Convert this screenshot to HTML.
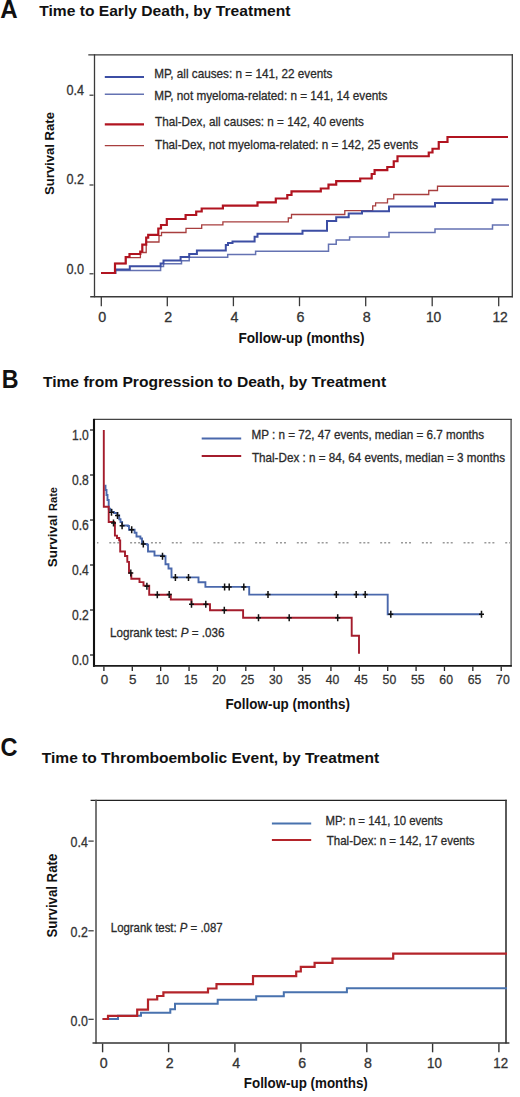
<!DOCTYPE html>
<html><head><meta charset="utf-8"><style>
html,body{margin:0;padding:0;background:#fff;}
svg{display:block;}
text{font-family:"Liberation Sans", sans-serif;}
</style></head><body>
<svg width="520" height="1097" viewBox="0 0 520 1097">
<rect width="520" height="1097" fill="#fff"/>
<text x="0.2" y="17.9" font-size="25.5" font-weight="bold" textLength="17.4" lengthAdjust="spacingAndGlyphs" fill="#111" >A</text>
<text x="39.2" y="16.2" font-size="15.0" font-weight="bold" textLength="251.3" lengthAdjust="spacingAndGlyphs" fill="#111" >Time to Early Death, by Treatment</text>
<text x="54.4" y="195.0" font-size="13.4" font-weight="bold" textLength="83.0" lengthAdjust="spacingAndGlyphs" transform="rotate(-90 54.4 195.0)" fill="#111" >Survival Rate</text>
<text x="84" y="95.4" font-size="13.8" text-anchor="end" textLength="17.6" lengthAdjust="spacingAndGlyphs" fill="#333"  stroke="#333" stroke-width="0.3">0.4</text>
<line x1="89.5" y1="95.2" x2="93.5" y2="95.2" stroke="#333" stroke-width="1.2" />
<text x="84" y="184.3" font-size="13.8" text-anchor="end" textLength="17.6" lengthAdjust="spacingAndGlyphs" fill="#333"  stroke="#333" stroke-width="0.3">0.2</text>
<line x1="89.5" y1="185" x2="93.5" y2="185" stroke="#333" stroke-width="1.2" />
<text x="84" y="274.3" font-size="13.8" text-anchor="end" textLength="17.6" lengthAdjust="spacingAndGlyphs" fill="#333"  stroke="#333" stroke-width="0.3">0.0</text>
<line x1="89.5" y1="273.8" x2="93.5" y2="273.8" stroke="#333" stroke-width="1.2" />
<line x1="88.3" y1="54.8" x2="513" y2="54.8" stroke="#3a3a3a" stroke-width="1.3" />
<line x1="94.5" y1="54.2" x2="94.5" y2="297.3" stroke="#3a3a3a" stroke-width="1.3" />
<line x1="90.2" y1="296.7" x2="513" y2="296.7" stroke="#3a3a3a" stroke-width="1.4" />
<line x1="512.3" y1="54.2" x2="512.3" y2="297.3" stroke="#3a3a3a" stroke-width="1.3" />
<line x1="101.3" y1="297" x2="101.3" y2="306.2" stroke="#3a3a3a" stroke-width="1.3" />
<text x="102.3" y="321.6" font-size="14.3" text-anchor="middle" fill="#333"  stroke="#333" stroke-width="0.3">0</text>
<line x1="167.3" y1="297" x2="167.3" y2="306.2" stroke="#3a3a3a" stroke-width="1.3" />
<text x="168.3" y="321.6" font-size="14.3" text-anchor="middle" fill="#333"  stroke="#333" stroke-width="0.3">2</text>
<line x1="233.4" y1="297" x2="233.4" y2="306.2" stroke="#3a3a3a" stroke-width="1.3" />
<text x="234.4" y="321.6" font-size="14.3" text-anchor="middle" fill="#333"  stroke="#333" stroke-width="0.3">4</text>
<line x1="299.5" y1="297" x2="299.5" y2="306.2" stroke="#3a3a3a" stroke-width="1.3" />
<text x="300.5" y="321.6" font-size="14.3" text-anchor="middle" fill="#333"  stroke="#333" stroke-width="0.3">6</text>
<line x1="365.7" y1="297" x2="365.7" y2="306.2" stroke="#3a3a3a" stroke-width="1.3" />
<text x="366.7" y="321.6" font-size="14.3" text-anchor="middle" fill="#333"  stroke="#333" stroke-width="0.3">8</text>
<line x1="432.2" y1="297" x2="432.2" y2="306.2" stroke="#3a3a3a" stroke-width="1.3" />
<text x="433.59999999999997" y="321.6" font-size="14.3" text-anchor="middle" textLength="15.4" lengthAdjust="spacingAndGlyphs" fill="#333"  stroke="#333" stroke-width="0.3">10</text>
<line x1="498.7" y1="297" x2="498.7" y2="306.2" stroke="#3a3a3a" stroke-width="1.3" />
<text x="500.09999999999997" y="321.6" font-size="14.3" text-anchor="middle" textLength="15.4" lengthAdjust="spacingAndGlyphs" fill="#333"  stroke="#333" stroke-width="0.3">12</text>
<text x="238.5" y="342.5" font-size="14.2" font-weight="bold" textLength="126.1" lengthAdjust="spacingAndGlyphs" fill="#111" >Follow-up (months)</text>
<line x1="104.8" y1="77" x2="144" y2="77" stroke="#3c4ea4" stroke-width="2.0" />
<line x1="104.8" y1="94.3" x2="144" y2="94.3" stroke="#6472b2" stroke-width="1.5" />
<line x1="104.8" y1="124.4" x2="144" y2="124.4" stroke="#b11420" stroke-width="2.3" />
<line x1="104.8" y1="145.7" x2="144" y2="145.7" stroke="#a83e3e" stroke-width="1.3" />
<text x="154.2" y="77.8" font-size="13.5" textLength="178.2" lengthAdjust="spacingAndGlyphs" fill="#2a2a2a"  stroke="#2a2a2a" stroke-width="0.3">MP, all causes: n = 141, 22 events</text>
<text x="154.2" y="100.1" font-size="13.5" textLength="233.2" lengthAdjust="spacingAndGlyphs" fill="#2a2a2a"  stroke="#2a2a2a" stroke-width="0.3">MP, not myeloma-related: n = 141, 14 events</text>
<text x="155.0" y="125.8" font-size="13.5" textLength="208.8" lengthAdjust="spacingAndGlyphs" fill="#2a2a2a"  stroke="#2a2a2a" stroke-width="0.3">Thal-Dex, all causes: n = 142, 40 events</text>
<text x="155.0" y="148.5" font-size="13.5" textLength="263.0" lengthAdjust="spacingAndGlyphs" fill="#2a2a2a"  stroke="#2a2a2a" stroke-width="0.3">Thal-Dex, not myeloma-related: n = 142, 25 events</text>
<path d="M101,273 H115.4 V270.6 H160.6 V266.5 H163.5 V263.7 H181.5 V260.8 H189.2 V257.3 H227.7 V254.4 H255.6 V251.2 H328.5 V244.2 H336.2 V240 H349.6 V237 H389 V232.5 H435 V229 H492.5 V225 H509" fill="none" stroke="#6472b2" stroke-width="1.5" stroke-linejoin="miter"/>
<path d="M101,273 H115 V263.5 H125.7 V257.7 H140.4 V252.5 H146.2 V242 H159 V235.6 H161.5 V232.5 H186 V228.3 H201.7 V224.8 H222.9 V221.9 H288.3 V218 H291.5 V214.5 H344.8 V210.6 H372.7 V205.8 H375.6 V202.9 H387.5 V198.9 H393.75 V194.5 H428.75 V190.5 H437.5 V186.25 H509" fill="none" stroke="#a83e3e" stroke-width="1.3" stroke-linejoin="miter"/>
<path d="M101,273 H115.4 V269.6 H129.8 V266.2 H160.6 V263.5 H163.5 V260.4 H180.6 V256.9 H189.2 V254 H196.9 V250.6 H225.8 V245 H228 V243 H232.5 V241.5 H254.6 V236.7 H257.5 V233.8 H302.5 V230.8 H327 V221 H336.2 V217.3 H348.7 V213.5 H362 V211.2 H389 V206.5 H435 V203 H492.5 V199.5 H508" fill="none" stroke="#3c4ea4" stroke-width="2.0" stroke-linejoin="miter"/>
<path d="M101,273 H115 V263.5 H125.7 V257 H129.5 V254 H140.3 V251.5 H142.3 V244.6 H146.2 V237.6 H148.2 V234.9 H158.3 V228.5 H161 V225 H166.8 V219 H185.6 V215 H196.2 V211.5 H201.7 V208.5 H222.9 V205.6 H257.5 V202.3 H275.8 V198.5 H287.3 V195 H291.5 V191.4 H320.8 V188.5 H328.5 V184.6 H336.2 V181.2 H360.2 V178.5 H371.7 V174 H374.6 V170.2 H387.3 V167 H393.75 V161.25 H397.5 V156.25 H428.75 V152.5 H432.5 V148.75 H438.75 V142 H447.5 V137 H508" fill="none" stroke="#b11420" stroke-width="2.2" stroke-linejoin="miter"/>
<text x="1.8" y="387.5" font-size="25.5" font-weight="bold" textLength="16.8" lengthAdjust="spacingAndGlyphs" fill="#111" >B</text>
<text x="42.9" y="387.3" font-size="15.0" font-weight="bold" textLength="343.2" lengthAdjust="spacingAndGlyphs" fill="#111" >Time from Progression to Death, by Treatment</text>
<text x="57.2" y="567.3" font-size="13.3" font-weight="bold" textLength="52.6" lengthAdjust="spacingAndGlyphs" transform="rotate(-90 57.2 567.3)" fill="#111" >Survival</text>
<text x="57.1" y="510.9" font-size="11.0" font-weight="bold" textLength="23.9" lengthAdjust="spacingAndGlyphs" transform="rotate(-90 57.1 510.9)" fill="#111" >Rate</text>
<text x="88.8" y="439.8" font-size="13.8" text-anchor="end" textLength="16.8" lengthAdjust="spacingAndGlyphs" fill="#333"  stroke="#333" stroke-width="0.3">1.0</text>
<line x1="90" y1="430" x2="93.5" y2="430" stroke="#222" stroke-width="1.3" />
<text x="88.8" y="484.8" font-size="13.8" text-anchor="end" textLength="16.8" lengthAdjust="spacingAndGlyphs" fill="#333"  stroke="#333" stroke-width="0.3">0.8</text>
<line x1="90" y1="475" x2="93.5" y2="475" stroke="#222" stroke-width="1.3" />
<text x="88.8" y="529.8" font-size="13.8" text-anchor="end" textLength="16.8" lengthAdjust="spacingAndGlyphs" fill="#333"  stroke="#333" stroke-width="0.3">0.6</text>
<line x1="90" y1="520" x2="93.5" y2="520" stroke="#222" stroke-width="1.3" />
<text x="88.8" y="574.8" font-size="13.8" text-anchor="end" textLength="16.8" lengthAdjust="spacingAndGlyphs" fill="#333"  stroke="#333" stroke-width="0.3">0.4</text>
<line x1="90" y1="565" x2="93.5" y2="565" stroke="#222" stroke-width="1.3" />
<text x="88.8" y="619.8" font-size="13.8" text-anchor="end" textLength="16.8" lengthAdjust="spacingAndGlyphs" fill="#333"  stroke="#333" stroke-width="0.3">0.2</text>
<line x1="90" y1="610" x2="93.5" y2="610" stroke="#222" stroke-width="1.3" />
<text x="88.8" y="664.8" font-size="13.8" text-anchor="end" textLength="16.8" lengthAdjust="spacingAndGlyphs" fill="#333"  stroke="#333" stroke-width="0.3">0.0</text>
<line x1="90" y1="655" x2="93.5" y2="655" stroke="#222" stroke-width="1.3" />
<line x1="97" y1="542.7" x2="510" y2="542.7" stroke="#999" stroke-width="1.6" stroke-dasharray="2 2 2 2 2 10.84" stroke-dashoffset="8.58"/>
<line x1="93.5" y1="419.45" x2="511.8" y2="419.45" stroke="#444" stroke-width="1.2" />
<line x1="511.1" y1="419" x2="511.1" y2="666.6" stroke="#444" stroke-width="1.3" />
<line x1="94.0" y1="418.9" x2="94.0" y2="666.8" stroke="#111" stroke-width="2.1" />
<line x1="93" y1="665.85" x2="511.8" y2="665.85" stroke="#1a1a1a" stroke-width="1.7" />
<line x1="103.9" y1="666.5" x2="103.9" y2="671" stroke="#222" stroke-width="1.3" />
<text x="104.4" y="684.4" font-size="13.4" text-anchor="middle" fill="#333"  stroke="#333" stroke-width="0.3">0</text>
<line x1="132.28" y1="666.5" x2="132.28" y2="671" stroke="#222" stroke-width="1.3" />
<text x="132.78" y="684.4" font-size="13.4" text-anchor="middle" fill="#333"  stroke="#333" stroke-width="0.3">5</text>
<line x1="160.66" y1="666.5" x2="160.66" y2="671" stroke="#222" stroke-width="1.3" />
<text x="162.35999999999999" y="684.4" font-size="13.4" text-anchor="middle" textLength="13.6" lengthAdjust="spacingAndGlyphs" fill="#333"  stroke="#333" stroke-width="0.3">10</text>
<line x1="189.04" y1="666.5" x2="189.04" y2="671" stroke="#222" stroke-width="1.3" />
<text x="190.73999999999998" y="684.4" font-size="13.4" text-anchor="middle" textLength="13.6" lengthAdjust="spacingAndGlyphs" fill="#333"  stroke="#333" stroke-width="0.3">15</text>
<line x1="217.42" y1="666.5" x2="217.42" y2="671" stroke="#222" stroke-width="1.3" />
<text x="219.11999999999998" y="684.4" font-size="13.4" text-anchor="middle" textLength="13.6" lengthAdjust="spacingAndGlyphs" fill="#333"  stroke="#333" stroke-width="0.3">20</text>
<line x1="245.8" y1="666.5" x2="245.8" y2="671" stroke="#222" stroke-width="1.3" />
<text x="247.5" y="684.4" font-size="13.4" text-anchor="middle" textLength="13.6" lengthAdjust="spacingAndGlyphs" fill="#333"  stroke="#333" stroke-width="0.3">25</text>
<line x1="274.18" y1="666.5" x2="274.18" y2="671" stroke="#222" stroke-width="1.3" />
<text x="275.88" y="684.4" font-size="13.4" text-anchor="middle" textLength="13.6" lengthAdjust="spacingAndGlyphs" fill="#333"  stroke="#333" stroke-width="0.3">30</text>
<line x1="302.56" y1="666.5" x2="302.56" y2="671" stroke="#222" stroke-width="1.3" />
<text x="304.26" y="684.4" font-size="13.4" text-anchor="middle" textLength="13.6" lengthAdjust="spacingAndGlyphs" fill="#333"  stroke="#333" stroke-width="0.3">35</text>
<line x1="330.94" y1="666.5" x2="330.94" y2="671" stroke="#222" stroke-width="1.3" />
<text x="332.64" y="684.4" font-size="13.4" text-anchor="middle" textLength="13.6" lengthAdjust="spacingAndGlyphs" fill="#333"  stroke="#333" stroke-width="0.3">40</text>
<line x1="359.32" y1="666.5" x2="359.32" y2="671" stroke="#222" stroke-width="1.3" />
<text x="361.02" y="684.4" font-size="13.4" text-anchor="middle" textLength="13.6" lengthAdjust="spacingAndGlyphs" fill="#333"  stroke="#333" stroke-width="0.3">45</text>
<line x1="387.7" y1="666.5" x2="387.7" y2="671" stroke="#222" stroke-width="1.3" />
<text x="389.4" y="684.4" font-size="13.4" text-anchor="middle" textLength="13.6" lengthAdjust="spacingAndGlyphs" fill="#333"  stroke="#333" stroke-width="0.3">50</text>
<line x1="416.08" y1="666.5" x2="416.08" y2="671" stroke="#222" stroke-width="1.3" />
<text x="417.78" y="684.4" font-size="13.4" text-anchor="middle" textLength="13.6" lengthAdjust="spacingAndGlyphs" fill="#333"  stroke="#333" stroke-width="0.3">55</text>
<line x1="444.46" y1="666.5" x2="444.46" y2="671" stroke="#222" stroke-width="1.3" />
<text x="446.15999999999997" y="684.4" font-size="13.4" text-anchor="middle" textLength="13.6" lengthAdjust="spacingAndGlyphs" fill="#333"  stroke="#333" stroke-width="0.3">60</text>
<line x1="472.84" y1="666.5" x2="472.84" y2="671" stroke="#222" stroke-width="1.3" />
<text x="474.53999999999996" y="684.4" font-size="13.4" text-anchor="middle" textLength="13.6" lengthAdjust="spacingAndGlyphs" fill="#333"  stroke="#333" stroke-width="0.3">65</text>
<line x1="501.22" y1="666.5" x2="501.22" y2="671" stroke="#222" stroke-width="1.3" />
<text x="502.92" y="684.4" font-size="13.4" text-anchor="middle" textLength="13.6" lengthAdjust="spacingAndGlyphs" fill="#333"  stroke="#333" stroke-width="0.3">70</text>
<text x="225.4" y="708.9" font-size="14.2" font-weight="bold" textLength="124.6" lengthAdjust="spacingAndGlyphs" fill="#111" >Follow-up (months)</text>
<line x1="201.7" y1="438.5" x2="241.2" y2="438.5" stroke="#4a68ac" stroke-width="2.0" />
<line x1="201.7" y1="455.9" x2="241.2" y2="455.9" stroke="#a41c2c" stroke-width="2.0" />
<text x="251.5" y="438.8" font-size="12.8" textLength="232.7" lengthAdjust="spacingAndGlyphs" fill="#2a2a2a"  stroke="#2a2a2a" stroke-width="0.3">MP : n = 72, 47 events, median = 6.7 months</text>
<text x="251.9" y="461.9" font-size="12.8" textLength="253.1" lengthAdjust="spacingAndGlyphs" fill="#2a2a2a"  stroke="#2a2a2a" stroke-width="0.3">Thal-Dex : n = 84, 64 events, median = 3 months</text>
<text x="110.0" y="636.7" font-size="12.6" textLength="114.4" lengthAdjust="spacingAndGlyphs" fill="#2a2a2a" stroke="#2a2a2a" stroke-width="0.3">Logrank test: <tspan font-style="italic">P</tspan> = .036</text>
<path d="M104.6,485.8 H105.5 V490 H106.5 V495 H107.5 V500 H108.7 V506 H108.7 V508.7 H110 V510 H111.5 V512 H114 V513 H117.3 V515.4 H119.2 V519.2 H120.5 V522 H122.1 V525.5 H127.9 V526 H129 V529.8 H134.6 V532.7 H136.5 V536.5 H140.4 V538.5 H142 V543 H143.3 V544 H146.9 V544.6 H148 V551.5 H153.8 V551.5 H154.5 V555.6 H164.2 V556.2 H165.5 V564.2 H168.5 V568.5 H171.5 V577.4 H198.5 V577.4 H198.5 V582.3 H205.4 V582.3 H205.4 V586.9 H249.2 V586.9 H249.2 V594.6 H387.7 V594.6 H387.7 V614.2 H481.5 V614.2" fill="none" stroke="#4a68ac" stroke-width="1.9"/>
<path d="M103.8,430 H103.8 V506.7 H108.5 V506.7 H108.7 V522 H114.4 V523 H114.9 V535.6 H117 V538 H119.2 V540.4 H120.2 V551.5 H123.8 V551.5 H125 V556 H127.3 V561.9 H129 V572.9 H131.3 V578.7 H138.3 V578.7 H139.5 V582.1 H143.5 V585.6 H149.2 V586.2 H149.2 V594.8 H170.8 V594.8 H170.8 V599.5 H191.5 V599.5 H191.5 V604.2 H210 V604.2 H210 V610.3 H243.1 V610.3 H243.1 V617.7 H351.7 V617.7 H351.7 V635.8 H359 V635.8 H359 V653.7" fill="none" stroke="#a41c2c" stroke-width="1.9"/>
<path d="M111.5,508.79999999999995 V515.8 M109.0,512.3 H114.0" stroke="#111" stroke-width="1.5" fill="none"/>
<path d="M117.5,512.1 V519.1 M115.0,515.6 H120.0" stroke="#111" stroke-width="1.5" fill="none"/>
<path d="M122.1,522.3 V529.3 M119.6,525.8 H124.6" stroke="#111" stroke-width="1.5" fill="none"/>
<path d="M131.7,526.3 V533.3 M129.2,529.8 H134.2" stroke="#111" stroke-width="1.5" fill="none"/>
<path d="M143.3,540.5 V547.5 M140.8,544 H145.8" stroke="#111" stroke-width="1.5" fill="none"/>
<path d="M162.5,552.7 V559.7 M160.0,556.2 H165.0" stroke="#111" stroke-width="1.5" fill="none"/>
<path d="M175.4,573.9 V580.9 M172.9,577.4 H177.9" stroke="#111" stroke-width="1.5" fill="none"/>
<path d="M188.5,573.9 V580.9 M186.0,577.4 H191.0" stroke="#111" stroke-width="1.5" fill="none"/>
<path d="M224.6,583.4 V590.4 M222.1,586.9 H227.1" stroke="#111" stroke-width="1.5" fill="none"/>
<path d="M229.2,583.4 V590.4 M226.7,586.9 H231.7" stroke="#111" stroke-width="1.5" fill="none"/>
<path d="M243.8,583.4 V590.4 M241.3,586.9 H246.3" stroke="#111" stroke-width="1.5" fill="none"/>
<path d="M268,591.1 V598.1 M265.5,594.6 H270.5" stroke="#111" stroke-width="1.5" fill="none"/>
<path d="M336.3,591.1 V598.1 M333.8,594.6 H338.8" stroke="#111" stroke-width="1.5" fill="none"/>
<path d="M356.2,591.1 V598.1 M353.7,594.6 H358.7" stroke="#111" stroke-width="1.5" fill="none"/>
<path d="M365.2,591.1 V598.1 M362.7,594.6 H367.7" stroke="#111" stroke-width="1.5" fill="none"/>
<path d="M390.8,610.7 V617.7 M388.3,614.2 H393.3" stroke="#111" stroke-width="1.5" fill="none"/>
<path d="M481.5,610.7 V617.7 M479.0,614.2 H484.0" stroke="#111" stroke-width="1.5" fill="none"/>
<path d="M113.5,519.5 V526.5 M111.0,523 H116.0" stroke="#111" stroke-width="1.5" fill="none"/>
<path d="M130.8,569.4 V576.4 M128.3,572.9 H133.3" stroke="#111" stroke-width="1.5" fill="none"/>
<path d="M146.9,582.7 V589.7 M144.4,586.2 H149.4" stroke="#111" stroke-width="1.5" fill="none"/>
<path d="M157.3,591.3 V598.3 M154.8,594.8 H159.8" stroke="#111" stroke-width="1.5" fill="none"/>
<path d="M169.2,591.1 V598.1 M166.7,594.6 H171.7" stroke="#111" stroke-width="1.5" fill="none"/>
<path d="M191.5,600.7 V607.7 M189.0,604.2 H194.0" stroke="#111" stroke-width="1.5" fill="none"/>
<path d="M205.8,600.7 V607.7 M203.3,604.2 H208.3" stroke="#111" stroke-width="1.5" fill="none"/>
<path d="M224.3,606.8 V613.8 M221.8,610.3 H226.8" stroke="#111" stroke-width="1.5" fill="none"/>
<path d="M258.5,614.2 V621.2 M256.0,617.7 H261.0" stroke="#111" stroke-width="1.5" fill="none"/>
<path d="M289.2,614.2 V621.2 M286.7,617.7 H291.7" stroke="#111" stroke-width="1.5" fill="none"/>
<path d="M337.7,614.2 V621.2 M335.2,617.7 H340.2" stroke="#111" stroke-width="1.5" fill="none"/>
<text x="0.6" y="756.3" font-size="25.5" font-weight="bold" textLength="17.0" lengthAdjust="spacingAndGlyphs" fill="#111" >C</text>
<text x="41.8" y="762.7" font-size="15.0" font-weight="bold" textLength="337.4" lengthAdjust="spacingAndGlyphs" fill="#111" >Time to Thromboembolic Event, by Treatment</text>
<text x="57.1" y="937.5" font-size="14.2" font-weight="bold" textLength="83.8" lengthAdjust="spacingAndGlyphs" transform="rotate(-90 57.1 937.5)" fill="#111" >Survival Rate</text>
<text x="87.9" y="847.3" font-size="14.2" text-anchor="end" textLength="17.3" lengthAdjust="spacingAndGlyphs" fill="#333"  stroke="#333" stroke-width="0.3">0.4</text>
<line x1="88.4" y1="841.1" x2="93.7" y2="841.1" stroke="#333" stroke-width="1.2" />
<text x="87.9" y="937.1" font-size="14.2" text-anchor="end" textLength="17.3" lengthAdjust="spacingAndGlyphs" fill="#333"  stroke="#333" stroke-width="0.3">0.2</text>
<line x1="88.4" y1="930.8" x2="93.7" y2="930.8" stroke="#333" stroke-width="1.2" />
<text x="87.9" y="1026" font-size="14.2" text-anchor="end" textLength="17.3" lengthAdjust="spacingAndGlyphs" fill="#333"  stroke="#333" stroke-width="0.3">0.0</text>
<line x1="88.4" y1="1019.3" x2="93.7" y2="1019.3" stroke="#333" stroke-width="1.2" />
<line x1="90.6" y1="800.4" x2="506.7" y2="800.4" stroke="#222" stroke-width="1.4" />
<line x1="96.0" y1="799.7" x2="96.0" y2="1043.6" stroke="#555" stroke-width="1.6" />
<line x1="92.5" y1="1042.9" x2="509.4" y2="1042.9" stroke="#333" stroke-width="1.5" />
<line x1="506.0" y1="799.7" x2="506.0" y2="1043.6" stroke="#333" stroke-width="1.6" />
<line x1="102.6" y1="1043.6" x2="102.6" y2="1052.3" stroke="#333" stroke-width="1.4" />
<text x="103.8" y="1067.8" font-size="14.2" text-anchor="middle" fill="#333"  stroke="#333" stroke-width="0.3">0</text>
<line x1="168.6" y1="1043.6" x2="168.6" y2="1052.3" stroke="#333" stroke-width="1.4" />
<text x="169.79999999999998" y="1067.8" font-size="14.2" text-anchor="middle" fill="#333"  stroke="#333" stroke-width="0.3">2</text>
<line x1="234.9" y1="1043.6" x2="234.9" y2="1052.3" stroke="#333" stroke-width="1.4" />
<text x="236.1" y="1067.8" font-size="14.2" text-anchor="middle" fill="#333"  stroke="#333" stroke-width="0.3">4</text>
<line x1="300.9" y1="1043.6" x2="300.9" y2="1052.3" stroke="#333" stroke-width="1.4" />
<text x="302.09999999999997" y="1067.8" font-size="14.2" text-anchor="middle" fill="#333"  stroke="#333" stroke-width="0.3">6</text>
<line x1="366.8" y1="1043.6" x2="366.8" y2="1052.3" stroke="#333" stroke-width="1.4" />
<text x="368.0" y="1067.8" font-size="14.2" text-anchor="middle" fill="#333"  stroke="#333" stroke-width="0.3">8</text>
<line x1="432.6" y1="1043.6" x2="432.6" y2="1052.3" stroke="#333" stroke-width="1.4" />
<text x="434.40000000000003" y="1067.8" font-size="14.2" text-anchor="middle" textLength="14.8" lengthAdjust="spacingAndGlyphs" fill="#333"  stroke="#333" stroke-width="0.3">10</text>
<line x1="498.9" y1="1043.6" x2="498.9" y2="1052.3" stroke="#333" stroke-width="1.4" />
<text x="500.7" y="1067.8" font-size="14.2" text-anchor="middle" textLength="14.8" lengthAdjust="spacingAndGlyphs" fill="#333"  stroke="#333" stroke-width="0.3">12</text>
<text x="243.8" y="1088" font-size="14.0" font-weight="bold" textLength="124" lengthAdjust="spacingAndGlyphs" fill="#111" >Follow-up (months)</text>
<line x1="271.9" y1="823.5" x2="311.2" y2="823.5" stroke="#4872ae" stroke-width="2.0" />
<line x1="271.9" y1="840.1" x2="311.2" y2="840.1" stroke="#b4242a" stroke-width="2.0" />
<text x="325.5" y="825.3" font-size="12.4" textLength="117.3" lengthAdjust="spacingAndGlyphs" fill="#2a2a2a"  stroke="#2a2a2a" stroke-width="0.3">MP: n = 141, 10 events</text>
<text x="326.8" y="845.4" font-size="12.4" textLength="147.8" lengthAdjust="spacingAndGlyphs" fill="#2a2a2a"  stroke="#2a2a2a" stroke-width="0.3">Thal-Dex: n = 142, 17 events</text>
<text x="110.8" y="932.2" font-size="12.6" textLength="111.8" lengthAdjust="spacingAndGlyphs" fill="#2a2a2a" stroke="#2a2a2a" stroke-width="0.3">Logrank test: <tspan font-style="italic">P</tspan> = .087</text>
<path d="M102.6,1019 H118 V1015.8 H141 V1012.8 H170.3 V1009.2 H175 V1003.8 H217.7 V999.8 H256.2 V996.2 H283.8 V992.2 H346.9 V988.3 H507" fill="none" stroke="#4872ae" stroke-width="2.0" stroke-linejoin="miter"/>
<path d="M102.6,1019 H108 V1015.8 H137.2 V1009.7 H148 V999.5 H157.2 V996 H163.4 V992.4 H208 V988.5 H216.5 V984.2 H253 V976.2 H296.2 V971.5 H300.8 V966.9 H314.6 V962.9 H332.5 V958.6 H393.2 V953.6 H507" fill="none" stroke="#b4242a" stroke-width="2.2" stroke-linejoin="miter"/>
</svg>
</body></html>
